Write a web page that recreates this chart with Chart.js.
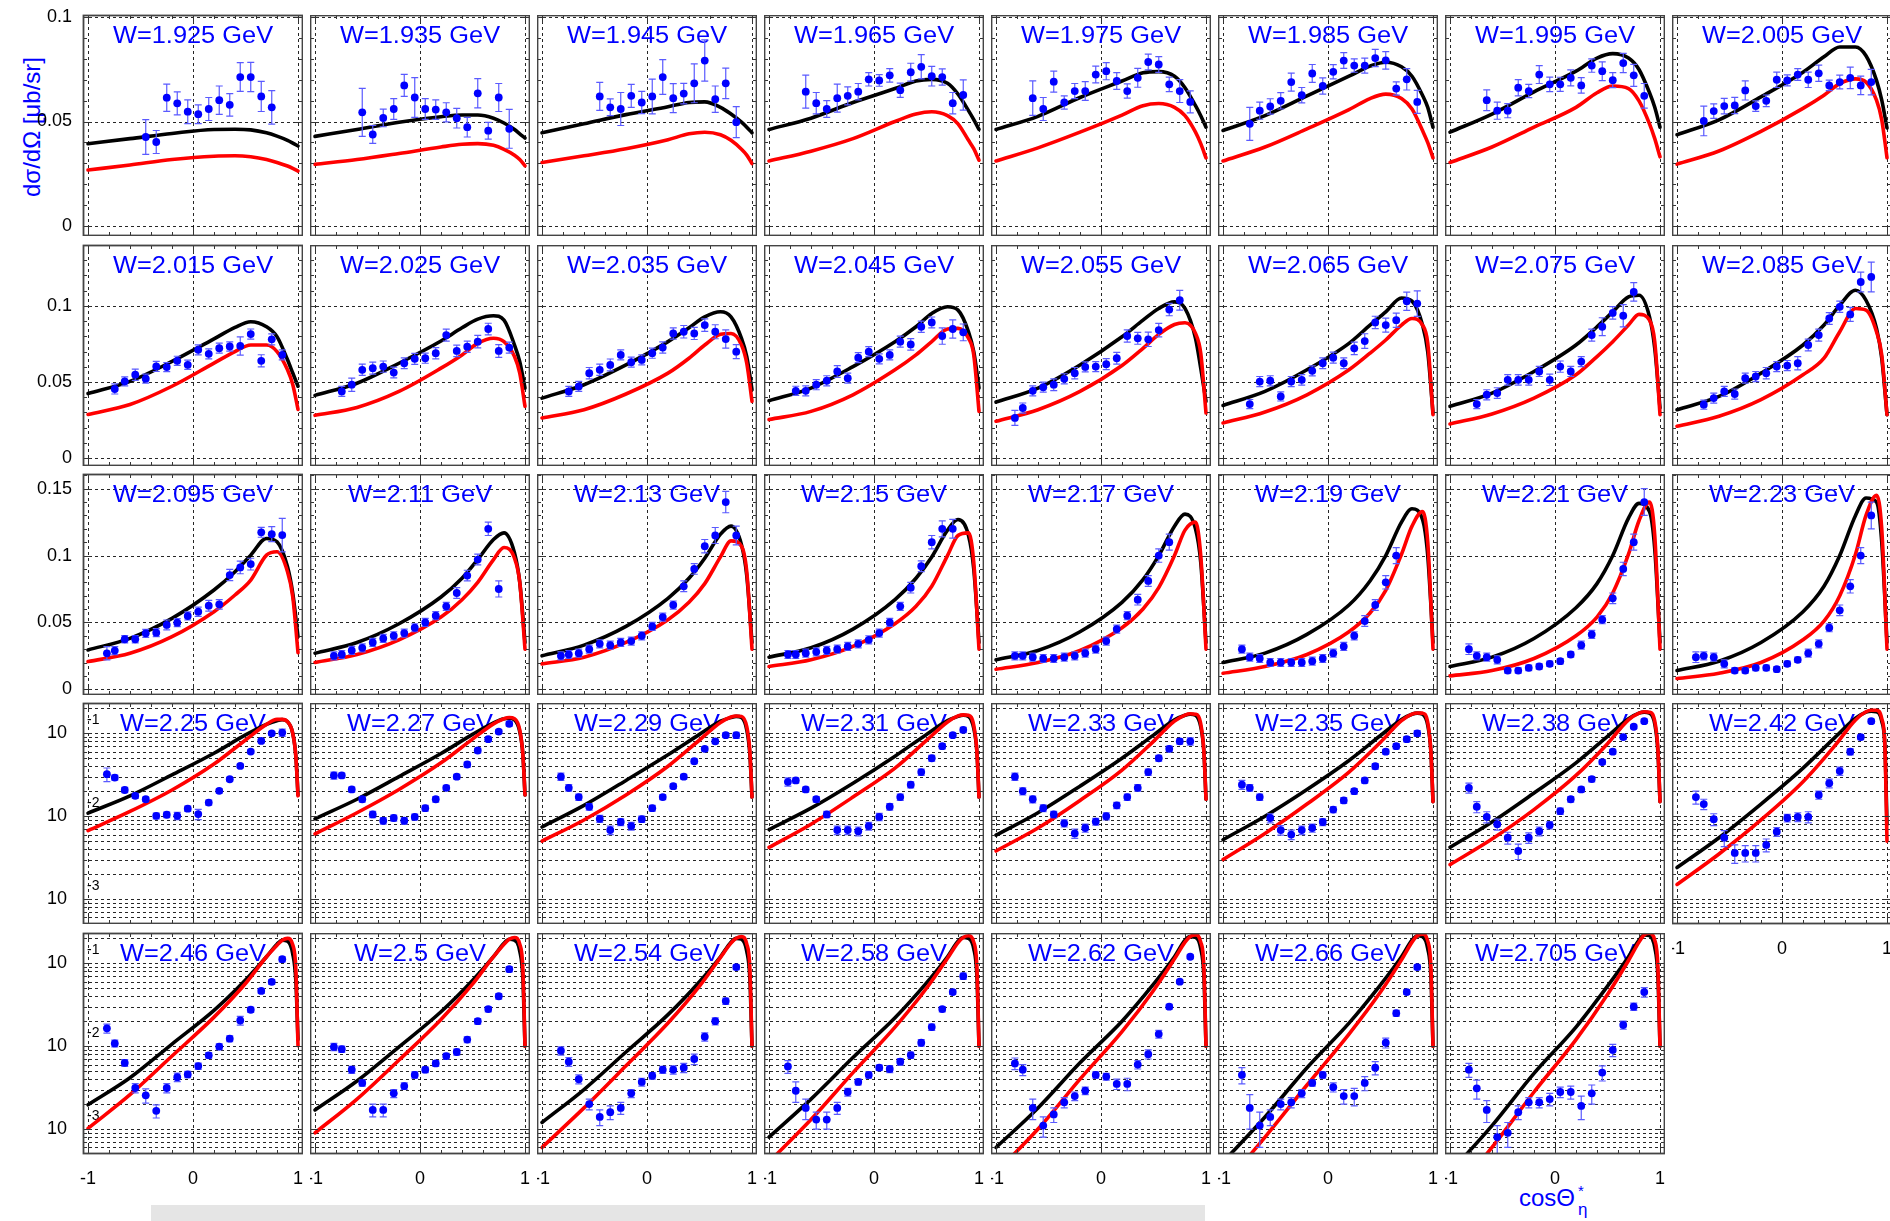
<!DOCTYPE html>
<html><head><meta charset="utf-8">
<script src="https://cdn.jsdelivr.net/npm/chart.js@4.4.1/dist/chart.umd.min.js"></script>
<style>
html,body{margin:0;padding:0;background:#fff;}
body{width:1890px;height:1221px;overflow:hidden;position:relative;font-family:"Liberation Sans",Arial,sans-serif;}
.pw{position:absolute;}
.pw canvas{display:block;}
#ytitle{position:absolute;left:32px;top:127px;transform:translate(-50%,-50%) rotate(-90deg);color:#0000ff;font-size:24px;white-space:nowrap;}
#xtitle{position:absolute;left:1519px;top:1184px;color:#0000ff;font-size:24px;white-space:nowrap;}
#xtitle .s1{position:absolute;left:59px;top:-2px;font-size:15px;}
#xtitle .s2{position:absolute;left:59px;top:16px;font-size:17px;}
#bar{position:absolute;left:151px;top:1205px;width:1054px;height:16px;background:#e5e5e5;}
</style></head><body>
<div id="ytitle">dσ/dΩ [μb/sr]</div>
<div id="xtitle">cosΘ<span class="s1">*</span><span class="s2">η</span></div>
<div id="bar"></div>
<script>
// ---------------- DATA ----------------
const wLabels = ['1.925','1.935','1.945','1.965','1.975','1.985','1.995','2.005',
 '2.015','2.025','2.035','2.045','2.055','2.065','2.075','2.085',
 '2.095','2.11','2.13','2.15','2.17','2.19','2.21','2.23',
 '2.25','2.27','2.29','2.31','2.33','2.35','2.38','2.42',
 '2.46','2.5','2.54','2.58','2.62','2.66','2.705'];

// cos(theta*) bin centres of the measured points
const cosBins = [-0.82,-0.745,-0.65,-0.55,-0.45,-0.35,-0.25,-0.15,-0.05,0.05,0.15,0.25,0.35,0.45,0.55,0.65,0.75,0.85];

// index of the first populated bin in each panel
const pointStart = [4,3,4,2,2,1,2,1, 1,1,1,1,0,1,1,1, 0,0,0,0,0,0,0,0, 0,0,0,0,0,0,0,0, 0,0,0,0,0,0,0];

// measured dsigma/dOmega [mub/sr]
const pointValues = [
 [.0426,.0402,.0614,.0587,.0547,.0535,.056,.0602,.058,.0713,.0713,.062,.0568],
 [.0544,.0438,.0517,.056,.0673,.0615,.056,.0557,.0544,.0516,.0473,.0635,.0456,.0615,.0465],
 [.062,.0568,.056,.0623,.0591,.062,.0713,.0612,.0634,.0683,.0792,.0607,.0683,.0497],
 [.0643,.0588,.056,.0612,.0623,.0643,.0702,.0697,.0721,.065,.0736,.0762,.0717,.0713,.0588,.0627],
 [.0612,.056,.0691,.0591,.0646,.0646,.0725,.0741,.0694,.0646,.0709,.0785,.0773,.0678,.0646,.0594],
 [.0489,.0552,.0572,.0599,.0689,.0626,.073,.067,.0738,.0792,.0768,.0768,.0804,.0793,.0658,.0702,.0594],
 [.0602,.0552,.0552,.0662,.0646,.0725,.0678,.0678,.0709,.0673,.0768,.0741,.0698,.078,.0721,.0623],
 [.0503,.055,.0574,.0577,.0649,.0574,.0599,.07,.0697,.0725,.07,.0731,.0673,.0689,.0709,.0673,.0689],
 [.0454,.0504,.0548,.0522,.0602,.0598,.0639,.0613,.0711,.0685,.0722,.0733,.0737,.0815,.0639,.078,.0678],
 [.0438,.0482,.058,.0591,.0601,.0562,.0623,.0652,.0656,.0689,.0808,.0704,.0732,.0765,.0848,.0704,.0726],
 [.0438,.0471,.0558,.058,.0612,.0678,.063,.0645,.0689,.0726,.0819,.083,.0819,.0874,.083,.0782,.0699],
 [.0442,.0442,.0482,.0508,.0569,.0525,.066,.0699,.0652,.0678,.0765,.0747,.0863,.0891,.0802,.0848,.0826],
 [.0264,.0329,.0442,.0466,.0482,.0521,.0558,.0599,.0601,.0617,.0656,.0802,.0787,.078,.0841,.0976,.1037],
 [.0355,.0503,.0508,.0405,.0503,.0514,.0573,.0623,.066,.0623,.0721,.0769,.0891,.0874,.0906,.1031,.1015],
 [.0355,.0416,.0427,.0514,.0514,.0514,.0569,.0514,.0601,.0569,.0634,.0808,.0863,.0954,.0935,.1092],
 [.0351,.0394,.0438,.0421,.0525,.0536,.0558,.0601,.0608,.0623,.0743,.0808,.0917,.0994,.0944,.1157,.119],
 [.0269,.0289,.0374,.0374,.0418,.0423,.0481,.0498,.0548,.058,.0625,.0635,.0854,.0911,.0936,.1174,.116,.1153],
 [.025,.026,.029,.031,.035,.038,.040,.042,.046,.050,.055,.062,.072,.085,.097,.120,.075],
 [.025,.026,.027,.030,.034,.033,.035,.036,.040,.047,.054,.063,.077,.090,.107,.115,.140,.115],
 [.026,.026,.027,.028,.029,.030,.032,.034,.037,.042,.050,.062,.076,.092,.110,.120,.120],
 [.025,.025,.024,.023,.023,.024,.025,.027,.030,.036,.045,.055,.067,.081,.100,.110],
 [.030,.024,.023,.020,.020,.020,.020,.021,.023,.027,.032,.040,.051,.063,.080,.100],
 [.030,.025,.024,.022,.014,.014,.016,.017,.019,.021,.026,.033,.041,.052,.068,.090,.110,.140],
 [.024,.025,.024,.019,.014,.014,.016,.016,.015,.019,.022,.027,.034,.046,.059,.077,.100,.130],
 [.0321,.0292,.0207,.0176,.016,.0101,.0104,.0101,.0123,.0106,.0146,.0202,.0279,.0404,.0601,.0809,.100,.102],
 [.031,.031,.021,.016,.0105,.0088,.0095,.0088,.0098,.0125,.016,.022,.030,.042,.062,.085,.105,.13],
 [.030,.022,.017,.013,.0093,.0068,.0085,.0076,.0092,.0125,.017,.023,.030,.046,.065,.080,.095,.095],
 [.026,.027,.021,.016,.0105,.0068,.0068,.0066,.0076,.0098,.013,.017,.024,.034,.050,.070,.095,.110],
 [.030,.020,.016,.0125,.0105,.0082,.0062,.0072,.0086,.010,.0135,.017,.022,.034,.050,.065,.080,.080],
 [.024,.022,.017,.0095,.0068,.006,.0068,.0072,.0085,.012,.0155,.020,.027,.040,.060,.070,.085,.100],
 [.022,.013,.0098,.008,.0055,.0038,.0055,.0066,.0078,.0115,.016,.021,.028,.045,.060,.090,.120,.140],
 [.017,.014,.0092,.0055,.0036,.0036,.0036,.0045,.0065,.0095,.0098,.0098,.018,.025,.035,.060,.090,.140],
 [.0164,.0108,.0063,.00313,.00255,.00166,.00313,.00423,.00456,.00575,.00776,.0099,.0123,.0204,.0275,.0464,.0597,.112],
 [.0098,.0092,.0052,.0036,.0017,.0017,.0027,.0033,.0045,.0052,.0062,.0076,.0085,.012,.020,.028,.040,.085],
 [.0088,.0065,.004,.002,.0014,.0016,.0018,.0027,.0037,.0044,.0052,.0052,.0055,.007,.013,.020,.035,.090],
 [.0057,.0029,.0018,.0013,.0013,.0018,.0028,.0037,.0045,.0055,.0053,.0065,.0078,.011,.017,.028,.045,.070],
 [.0062,.0052,.0018,.0011,.0015,.0021,.0025,.0029,.0045,.0043,.0035,.0035,.006,.008,.014,.030,.060,.120],
 [.0045,.0018,.0011,.0014,.002,.0021,.0027,.0036,.0045,.0032,.0025,.0025,.0036,.0055,.011,.025,.045,.090],
 [.0052,.0031,.0017,.0008,.0009,.0016,.0021,.0021,.0023,.0028,.0028,.0019,.0027,.0048,.009,.018,.030,.045]
];

// symmetric uncertainties of the measured points
const pointErrors = [
 [.0083,.0055,.0065,.0055,.0057,.0045,.0055,.0068,.0054,.0069,.007,.0072,.008],
 [.0115,.0043,.0042,.005,.0053,.0095,.005,.0047,.0046,.0047,.0047,.007,.004,.0067,.0093],
 [.0067,.004,.0079,.0055,.0053,.0083,.0083,.0069,.0049,.0093,.0099,.0063,.0073,.0074],
 [.0079,.0051,.004,.0067,.0043,.0039,.0032,.0028,.0032,.0034,.0043,.0058,.0047,.0039,.0051,.0072],
 [.0083,.0055,.005,.0032,.0036,.0045,.004,.0041,.004,.0034,.0045,.0038,.0038,.0035,.0055,.0053],
 [.0079,.0041,.0037,.0039,.0043,.0037,.0043,.0039,.0034,.0038,.0032,.0036,.0041,.0042,.0032,.0051,.0055],
 [.005,.0041,.0034,.0039,.0032,.0043,.0035,.0034,.0038,.0037,.0032,.0045,.0036,.0046,.0053,.0059],
 [.0071,.0035,.0037,.0039,.0046,.0025,.0028,.0037,.0026,.0028,.0037,.0039,.0025,.0033,.0051,.0044,.0061],
 [.0033,.003,.0037,.003,.0033,.003,.003,.003,.0033,.0033,.0033,.003,.006,.0033,.004,.0036,.0033],
 [.0033,.0044,.0037,.0039,.0037,.0035,.0035,.0036,.0033,.0037,.0039,.0038,.0037,.0041,.0038,.0042,.0036],
 [.0033,.0033,.0037,.0037,.0039,.0033,.0033,.0033,.0033,.0037,.0037,.0041,.004,.0041,.0046,.006,.0046],
 [.003,.0033,.0033,.0033,.0039,.0033,.0033,.0033,.0033,.0033,.0036,.0038,.0037,.0036,.0054,.006,.0055],
 [.0049,.0033,.0033,.0033,.0039,.0033,.0037,.0033,.0033,.0036,.0039,.004,.0039,.0047,.0044,.0041,.0065],
 [.003,.0033,.0033,.003,.0033,.0035,.0033,.0035,.0036,.0035,.0041,.0048,.0041,.0046,.0047,.006,.0084],
 [.003,.0033,.0035,.0035,.0035,.0035,.0033,.0037,.0037,.0033,.0033,.0039,.0059,.0041,.0073,.0061],
 [.003,.0033,.0033,.0033,.0033,.0033,.0037,.0033,.0033,.0044,.0039,.0039,.0039,.0037,.0046,.0065,.0098],
 [.005,.003,.0027,.0027,.003,.003,.0037,.003,.003,.0035,.004,.0035,.0042,.0047,.0044,.0037,.0056,.0125],
 [.003,.003,.003,.003,.003,.003,.003,.003,.003,.003,.003,.003,.004,.004,.004,.005,.006],
 [.003,.003,.003,.003,.003,.003,.003,.003,.003,.003,.003,.003,.004,.004,.005,.006,.008,.007],
 [.003,.003,.003,.003,.003,.003,.003,.003,.003,.003,.003,.003,.004,.004,.005,.006,.007],
 [.003,.003,.003,.003,.003,.003,.003,.003,.003,.003,.003,.003,.004,.004,.005,.006],
 [.003,.003,.003,.003,.003,.003,.003,.003,.003,.003,.003,.003,.004,.004,.005,.006],
 [.004,.003,.003,.003,.002,.002,.002,.002,.002,.002,.002,.003,.003,.003,.004,.005,.006,.01],
 [.004,.003,.003,.003,.002,.002,.002,.002,.002,.002,.002,.003,.003,.003,.004,.005,.006,.01],
 [.006,.002,.0015,.0012,.001,.0008,.0008,.001,.0009,.0015,.001,.0012,.0015,.002,.003,.004,.005,.01],
 [.003,.002,.0015,.0012,.0009,.0008,.0008,.0008,.0008,.001,.0012,.0015,.002,.003,.004,.005,.006,.008],
 [.003,.002,.0015,.0012,.0009,.0008,.0008,.0008,.0008,.001,.0012,.0015,.002,.003,.004,.005,.006,.008],
 [.003,.002,.0015,.0012,.0009,.0008,.0008,.0008,.0008,.001,.0012,.0015,.002,.003,.004,.005,.006,.008],
 [.003,.002,.0015,.0012,.0009,.0008,.0008,.0008,.0008,.001,.0012,.0015,.002,.003,.004,.005,.006,.008],
 [.003,.002,.0015,.0012,.0009,.0008,.0008,.0008,.0008,.001,.0012,.0015,.002,.003,.004,.005,.006,.008],
 [.003,.002,.0015,.0012,.0009,.0008,.0008,.0008,.0008,.001,.0012,.0015,.002,.003,.004,.005,.006,.008],
 [.003,.002,.0015,.0012,.0009,.0008,.0008,.0008,.0008,.001,.0012,.0015,.002,.003,.004,.005,.006,.008],
 [.002,.001,.0006,.0004,.0005,.0003,.0004,.0005,.0004,.0005,.0006,.0008,.001,.0025,.002,.003,.004,.008],
 [.001,.0008,.0005,.0003,.0003,.0003,.0003,.0003,.0004,.0004,.0005,.0006,.0007,.001,.0015,.002,.003,.006],
 [.001,.0008,.0005,.0003,.0003,.0003,.0003,.0003,.0004,.0004,.0005,.0006,.0007,.001,.0015,.002,.003,.006],
 [.001,.0008,.0005,.0003,.0003,.0003,.0003,.0003,.0004,.0004,.0005,.0006,.0007,.001,.0015,.002,.003,.006],
 [.001,.0008,.0005,.0003,.0003,.0003,.0003,.0003,.0004,.0004,.0005,.0006,.0007,.001,.0015,.002,.003,.006],
 [.001,.0008,.0005,.0003,.0003,.0003,.0003,.0003,.0004,.0004,.0005,.0006,.0007,.001,.0015,.002,.003,.006],
 [.001,.0008,.0005,.0003,.0003,.0003,.0003,.0003,.0004,.0004,.0005,.0006,.0007,.001,.0015,.002,.003,.006]
];

// cos values at which the model curves are tabulated
const curveCosLin = [-1,-0.6,-0.2,0.2,0.4,0.55,0.7,0.8,0.9,0.95,1];
const curveCosLog = [-1,-0.6,-0.2,0.2,0.5,0.7,0.8,0.85,0.9,0.95,0.98,1];

// black model curve
const blackCurves = [
 [.0394,.0418,.0443,.0462,.0463,.046,.0446,.043,.041,.0397,.0383],
 [.0429,.0462,.0497,.0523,.0531,.0531,.0516,.0493,.0462,.0441,.0421],
 [.0446,.0489,.0533,.0571,.0591,.0594,.0568,.0536,.0497,.0473,.0446],
 [.0462,.0516,.0591,.0658,.0694,.0702,.0683,.0631,.0552,.0509,.0462],
 [.0462,.0525,.0615,.0694,.0733,.0739,.0717,.0662,.0576,.0528,.0473],
 [.0457,.0528,.0623,.0717,.0765,.0784,.0762,.0717,.0626,.0568,.0473],
 [.0449,.0536,.0642,.0741,.0804,.0825,.0804,.0749,.0638,.0568,.0473],
 [.0437,.0508,.0618,.0736,.081,.0857,.0857,.0815,.0697,.0602,.0469],
 [.0424,.0504,.0635,.0783,.0859,.0896,.0863,.0798,.0646,.0559,.0472],
 [.0412,.0492,.0623,.0769,.0856,.0913,.0935,.0906,.0743,.0634,.046],
 [.0394,.0482,.0612,.0765,.0856,.0928,.0961,.0928,.0787,.0667,.0449],
 [.0377,.046,.0601,.0765,.0863,.095,.0994,.0972,.083,.0699,.046],
 [.0368,.046,.0612,.0797,.0906,.0983,.1026,.0983,.0787,.059,.0373],
 [.0346,.0438,.058,.0754,.0874,.0961,.1052,.1031,.0874,.0699,.0296],
 [.034,.0427,.0569,.0743,.0863,.0961,.1059,.107,.0928,.0721,.0329],
 [.0318,.0405,.0558,.0743,.0874,.1005,.1103,.1037,.0852,.0656,.0285],
 [.0294,.0381,.053,.0742,.0879,.1003,.1128,.1103,.0916,.0717,.0393],
 [.027,.035,.049,.069,.083,.097,.112,.117,.102,.08,.035],
 [.025,.033,.047,.068,.083,.098,.116,.122,.108,.085,.035],
 [.024,.031,.045,.067,.083,.099,.119,.127,.115,.09,.035],
 [.022,.029,.043,.065,.082,.1,.122,.131,.12,.095,.035],
 [.02,.027,.041,.063,.081,.1,.125,.135,.127,.1,.035],
 [.017,.024,.038,.061,.079,.1,.128,.139,.133,.105,.035],
 [.014,.021,.035,.058,.077,.1,.13,.143,.14,.11,.035],
 [.0109,.0176,.0315,.0574,.0955,.128,.142,.146,.138,.10,.052,.018],
 [.0093,.016,.03,.057,.097,.134,.15,.152,.145,.105,.055,.018],
 [.0074,.0135,.027,.055,.097,.14,.155,.16,.155,.11,.055,.017],
 [.0069,.0125,.025,.053,.097,.142,.16,.165,.16,.115,.06,.017],
 [.0059,.011,.023,.05,.095,.145,.165,.17,.165,.12,.06,.016],
 [.0052,.010,.021,.047,.094,.147,.17,.175,.17,.125,.06,.015],
 [.0042,.0085,.019,.044,.092,.15,.175,.18,.175,.13,.06,.015],
 [.0024,.0055,.014,.038,.088,.152,.18,.185,.182,.14,.07,.008],
 [.00196,.00415,.0106,.027,.0627,.12,.17,.19,.185,.13,.06,.012],
 [.0017,.0038,.0098,.026,.062,.12,.175,.195,.19,.14,.065,.01],
 [.0012,.003,.0085,.024,.06,.12,.18,.2,.195,.14,.065,.01],
 [.0008,.0023,.0073,.022,.058,.12,.185,.205,.2,.15,.07,.01],
 [.0006,.0018,.0063,.020,.056,.12,.19,.21,.205,.15,.07,.01],
 [.0004,.0014,.0055,.019,.055,.12,.19,.215,.21,.15,.07,.01],
 [.0003,.0011,.0047,.017,.053,.12,.19,.22,.215,.155,.07,.01]
];

// red model curve
const redCurves = [
 [.0268,.0292,.0318,.0334,.0336,.0331,.0318,.0304,.0287,.0276,.0263],
 [.0295,.0318,.0347,.0378,.0391,.0394,.0386,.0367,.0339,.0318,.0288],
 [.0304,.0336,.037,.0413,.0441,.0449,.0437,.041,.0367,.0339,.0299],
 [.0311,.0358,.0418,.05,.0536,.0547,.0528,.0489,.041,.037,.0315],
 [.0311,.0374,.0449,.0531,.0576,.0586,.0568,.0528,.0449,.0394,.0326],
 [.0311,.0378,.0465,.0557,.061,.0631,.061,.056,.0457,.0399,.0326],
 [.0304,.0378,.0473,.0568,.0638,.067,.0658,.0599,.0489,.0418,.0331],
 [.0296,.0359,.0453,.0563,.0626,.0681,.0704,.0689,.0602,.0508,.0327],
 [.0287,.0352,.0472,.0624,.07,.0743,.0743,.07,.058,.0483,.032],
 [.0281,.0333,.0438,.0591,.0678,.0754,.0787,.0765,.0667,.0558,.034],
 [.0264,.0318,.0421,.0558,.0656,.0743,.0813,.0819,.0743,.0623,.0373],
 [.0253,.0307,.0416,.058,.0678,.0765,.0848,.0852,.0787,.0678,.0307],
 [.0242,.0318,.0438,.0608,.0721,.0813,.0878,.0889,.0819,.0689,.0296],
 [.0231,.0303,.0416,.058,.0689,.0776,.0874,.0917,.0874,.0754,.0285],
 [.0224,.029,.0394,.0547,.0667,.0765,.0874,.0944,.0906,.0765,.0285],
 [.0209,.0275,.0384,.0547,.0656,.083,.0983,.0972,.083,.0678,.0285],
 [.0207,.0269,.0393,.058,.0705,.0817,.1003,.1028,.0879,.0692,.0274],
 [.02,.026,.037,.054,.067,.08,.097,.106,.098,.08,.03],
 [.019,.024,.035,.052,.065,.079,.099,.111,.107,.088,.03],
 [.017,.022,.032,.049,.062,.077,.1,.115,.117,.095,.03],
 [.015,.02,.029,.046,.06,.076,.1,.119,.125,.1,.03],
 [.012,.017,.026,.043,.057,.074,.101,.122,.133,.11,.03],
 [.01,.014,.023,.04,.054,.072,.101,.126,.14,.115,.03],
 [.008,.012,.02,.037,.051,.07,.101,.13,.145,.12,.03],
 [.0067,.0114,.0207,.0426,.0831,.128,.147,.147,.138,.10,.052,.0176],
 [.0061,.011,.021,.044,.085,.13,.15,.155,.15,.11,.055,.018],
 [.005,.009,.018,.04,.083,.135,.157,.162,.16,.12,.06,.017],
 [.0042,.008,.017,.038,.082,.137,.162,.167,.165,.125,.06,.017],
 [.0038,.0072,.0155,.036,.08,.14,.166,.172,.17,.13,.06,.016],
 [.003,.0062,.014,.034,.078,.142,.17,.176,.175,.135,.06,.015],
 [.0026,.0053,.012,.031,.075,.145,.175,.182,.18,.14,.065,.015],
 [.0015,.0035,.009,.026,.07,.145,.182,.19,.19,.15,.07,.005],
 [.00102,.0026,.0076,.0224,.057,.12,.165,.19,.2,.167,.083,.0101],
 [.0009,.0023,.0068,.021,.056,.12,.17,.195,.205,.17,.085,.01],
 [.0006,.0018,.0058,.019,.053,.118,.175,.2,.21,.17,.085,.01],
 [.0004,.0013,.0048,.017,.05,.115,.178,.205,.215,.18,.09,.01],
 [.0003,.001,.004,.015,.047,.113,.18,.21,.22,.18,.09,.01],
 [.0002,.0008,.0034,.014,.045,.11,.18,.215,.225,.185,.09,.01],
 [.00015,.0006,.0028,.012,.042,.108,.18,.22,.23,.19,.09,.01]
];

// axis tick values per row
const yLabelTicks = [[0,0.05,0.1],[0,0.05,0.1],[0,0.05,0.1,0.15],[1e-3,1e-2,1e-1],[1e-3,1e-2,1e-1]];
const yTickText = {'0':'0','0.05':'0.05','0.1':'0.1','0.15':'0.15'};
const logGrid = [6e-4,7e-4,8e-4,9e-4,1e-3,2e-3,3e-3,4e-3,5e-3,6e-3,7e-3,8e-3,9e-3,1e-2,2e-2,3e-2,4e-2,5e-2,6e-2,7e-2,8e-2,9e-2,1e-1,2e-1];
const xTickValues = [-1,0,1];
const xTickText = ['-1','0','1'];

// ---------------- LAYOUT ----------------
const FONT = '"Liberation Sans", Arial, Helvetica, sans-serif';
const ROW_TOP = [15,245,474,703,933];
const PANEL_W = 220, PANEL_H = 221, COL_PITCH = 227, COL0_LEFT = 83;
const Y_RANGE = [[-0.0048,0.101],[-0.0052,0.14],[-0.0043,0.161],[5e-4,0.232],[5e-4,0.232]];
const X_RANGE = [-1.0476, 1.0476];
const BLUE = '#0000ff';

function makePlugin(cfg){
  return {
    id:'panel'+cfg.p,
    beforeDatasetsDraw(chart){
      const {ctx, chartArea:a, scales:{x,y}} = chart;
      ctx.save();
      ctx.beginPath(); ctx.rect(a.left,a.top,a.right-a.left,a.bottom-a.top); ctx.clip();
      ctx.strokeStyle='rgba(0,0,0,0.85)'; ctx.lineWidth=1; ctx.setLineDash([3,3]);
      ctx.beginPath();
      xTickValues.forEach(v=>{const px=Math.round(x.getPixelForValue(v))+0.5; ctx.moveTo(px,a.top); ctx.lineTo(px,a.bottom);});
      const gy = cfg.isLog ? logGrid : yLabelTicks[cfg.r];
      gy.forEach(v=>{const py=Math.round(y.getPixelForValue(v))+0.5; ctx.moveTo(a.left,py); ctx.lineTo(a.right,py);});
      ctx.stroke();
      ctx.setLineDash([]);
      if(cfg.isLog && cfg.c===0){
        ctx.fillStyle='#000'; ctx.font='14px '+FONT; ctx.textAlign='left'; ctx.textBaseline='alphabetic';
        [[1e-1,'-1'],[1e-2,'-2'],[1e-3,'-3']].forEach(([v,t])=>{ctx.fillText(t, a.left+4, y.getPixelForValue(v)-9);});
      }
      ctx.fillStyle=BLUE; ctx.font='23.5px '+FONT; ctx.textAlign='center'; ctx.textBaseline='alphabetic';
      ctx.translate(x.getPixelForValue(0), a.top+28); ctx.scale(1.08,1);
      ctx.fillText('W='+wLabels[cfg.p]+' GeV',0,0);
      ctx.restore();
    },
    beforeDatasetDraw(chart,args){
      if(args.index!==0) return;
      const {ctx, chartArea:a, scales:{x,y}} = chart;
      ctx.save();
      ctx.beginPath(); ctx.rect(a.left,a.top,a.right-a.left,a.bottom-a.top); ctx.clip();
      ctx.strokeStyle='#5a5aff'; ctx.lineWidth=1.2;
      ctx.beginPath();
      chart.data.datasets[0].data.forEach(d=>{
        const px=x.getPixelForValue(d.x);
        const lo = Math.max(d.y-d.e, y.min), hi=d.y+d.e;
        const p1=y.getPixelForValue(lo), p2=y.getPixelForValue(hi);
        ctx.moveTo(px,p1); ctx.lineTo(px,p2);
        ctx.moveTo(px-3.5,p1); ctx.lineTo(px+3.5,p1);
        ctx.moveTo(px-3.5,p2); ctx.lineTo(px+3.5,p2);
      });
      ctx.stroke();
      ctx.restore();
    },
    afterDraw(chart){
      const {ctx, chartArea:a, scales:{x,y}} = chart;
      ctx.save();
      ctx.strokeStyle='#333'; ctx.lineWidth=1;
      ctx.beginPath();
      for(let k=-5;k<=5;k++){
        const v=k/5, px=Math.round(x.getPixelForValue(v))+0.5, L=(k%5===0)?8:4;
        ctx.moveTo(px,a.bottom); ctx.lineTo(px,a.bottom-L);
        ctx.moveTo(px,a.top); ctx.lineTo(px,a.top+L);
      }
      if(cfg.isLog){
        logGrid.forEach(v=>{const py=Math.round(y.getPixelForValue(v))+0.5; const L=([1e-3,1e-2,1e-1].includes(v))?8:4;
          ctx.moveTo(a.left,py); ctx.lineTo(a.left+L,py); ctx.moveTo(a.right,py); ctx.lineTo(a.right-L,py);});
      } else {
        for(let k=0;k<=16;k++){const v=k/100; if(v>y.max) break; const py=Math.round(y.getPixelForValue(v))+0.5; const L=(k%5===0)?8:4;
          ctx.moveTo(a.left,py); ctx.lineTo(a.left+L,py); ctx.moveTo(a.right,py); ctx.lineTo(a.right-L,py);}
      }
      ctx.stroke();
      ctx.strokeStyle='#444'; ctx.lineWidth=1.8;
      ctx.strokeRect(a.left+0.5,a.top+0.5,a.right-a.left-1,a.bottom-a.top-1);
      ctx.restore();
    }
  };
}

function build(p){
  const r=Math.floor(p/8), c=p%8, isLog=r>=3;
  const left=COL0_LEFT+c*COL_PITCH, top=ROW_TOP[r];
  const padL = c===0 ? left : 0;
  const padT = c===0 ? 14 : 0;
  const hasX = (r===4) || (r===3 && c===7);
  const padB = hasX ? 36 : 0;
  const wrap=document.createElement('div'); wrap.className='pw';
  wrap.style.left=(left-padL)+'px'; wrap.style.top=(top-padT)+'px';
  const cv=document.createElement('canvas');
  cv.width=PANEL_W+padL; cv.height=PANEL_H+padB+padT;
  cv.style.width=cv.width+'px'; cv.style.height=cv.height+'px';
  wrap.appendChild(cv); document.body.appendChild(wrap);

  const s=pointStart[p];
  const pts=pointValues[p].map((v,i)=>({x:cosBins[s+i], y:v, e:pointErrors[p][i]}));
  const cx=isLog?curveCosLog:curveCosLin;
  const black=blackCurves[p].map((v,i)=>({x:cx[i],y:v}));
  const red=redCurves[p].map((v,i)=>({x:cx[i],y:v}));
  const cfg={p,r,c,isLog};

  new Chart(cv,{
    type:'line',
    data:{datasets:[
      {data:pts, showLine:false, pointRadius:3.9, pointBackgroundColor:BLUE, pointBorderWidth:0, pointStyle:'circle', order:0},
      {data:red, borderColor:'#ff0000', borderWidth:3.6, pointRadius:0, cubicInterpolationMode:'monotone', borderCapStyle:'round', borderJoinStyle:'round', order:1},
      {data:black, borderColor:'#000000', borderWidth:3.6, pointRadius:0, cubicInterpolationMode:'monotone', borderCapStyle:'round', borderJoinStyle:'round', order:2}
    ]},
    options:{
      responsive:false, animation:false, events:[], devicePixelRatio:1,
      layout:{padding:{top:padT,left:0,right:0,bottom:0}, autoPadding:false},
      plugins:{legend:{display:false}, tooltip:{enabled:false}},
      scales:{
        x:{type:'linear', min:X_RANGE[0], max:X_RANGE[1], bounds:'data',
           afterBuildTicks:sc=>{sc.ticks=xTickValues.map(v=>({value:v}));},
           afterFit:sc=>{sc.height=padB; sc.paddingLeft=0; sc.paddingRight=0;},
           grid:{display:false}, border:{display:false},
           ticks:{display:hasX, color:'#000', font:{family:FONT,size:18}, padding:6, maxRotation:0, minRotation:0, autoSkip:false,
             callback:(v)=>{const i=xTickValues.indexOf(v); return i<0?'':xTickText[i];}}},
        y:{type:isLog?'logarithmic':'linear', min:Y_RANGE[r][0], max:Y_RANGE[r][1], bounds:'data',
           afterBuildTicks:sc=>{sc.ticks=yLabelTicks[r].map(v=>({value:v}));},
           afterFit:sc=>{sc.width=padL; sc.paddingTop=0; sc.paddingBottom=0;},
           grid:{display:false}, border:{display:false},
           ticks:{display:c===0, color:'#000', font:{family:FONT,size:18}, padding:isLog?8:3, autoSkip:false,
             callback:(v)=>{ if(isLog) return '10'; const k=String(+v.toFixed(3)); return yTickText[k]!==undefined?yTickText[k]:''; }}}
      }
    },
    plugins:[makePlugin(cfg)]
  });
}
for(let p=0;p<wLabels.length;p++) build(p);
</script>
</body></html>
